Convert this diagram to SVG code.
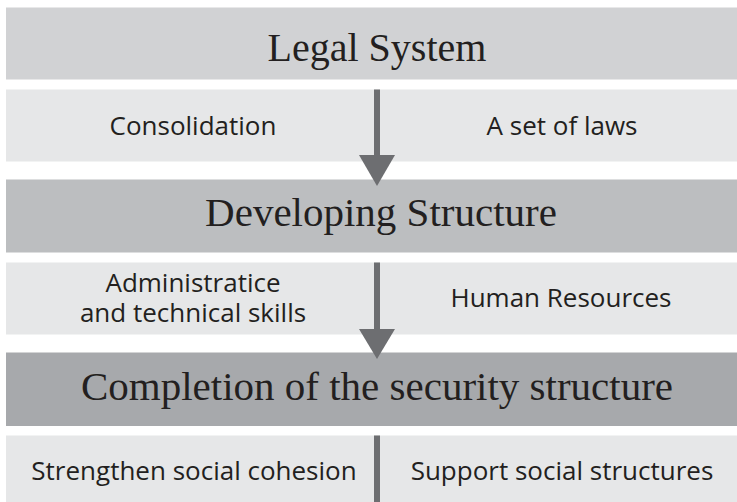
<svg xmlns="http://www.w3.org/2000/svg" width="737" height="502" viewBox="0 0 737 502">
<style>
.b1{fill:#d1d2d4}
.b2{fill:#bcbec0}
.b3{fill:#a7a9ac}
.row{fill:#e6e7e8}
.title{font-family:"Liberation Serif","DejaVu Serif",serif;font-size:41px;fill:#231f20;text-anchor:middle}
.lab{font-family:"Open Sans","Liberation Sans",sans-serif;font-size:26px;fill:#231f20;text-anchor:middle}
.conn{fill:#6d6e71}
</style>
<rect x="0" y="0" width="737" height="502" fill="#ffffff"/>
<g id="legal-system">
<rect class="b1" x="6" y="7.5" width="731" height="72"/>
<text class="title" x="377" y="61" style="font-size:40px">Legal System</text>
</g>
<g id="row-legal">
<rect class="row" x="6" y="89.5" width="731" height="72"/>
<text class="lab" x="193" y="135">Consolidation</text>
<text class="lab" x="562" y="135">A set of laws</text>
</g>
<g id="developing-structure">
<rect class="b2" x="6" y="179.5" width="731" height="73"/>
<text class="title" x="381" y="226">Developing Structure</text>
</g>
<g id="row-developing">
<rect class="row" x="6" y="262.5" width="731" height="72"/>
<text class="lab" x="193" y="291.5">Administratice</text>
<text class="lab" x="193" y="321.5">and technical skills</text>
<text class="lab" x="561" y="307">Human Resources</text>
</g>
<g id="completion">
<rect class="b3" x="6" y="352.5" width="731" height="73.5"/>
<text class="title" x="377" y="400">Completion of the security structure</text>
</g>
<g id="row-completion">
<rect class="row" x="6" y="435.5" width="731" height="66.5"/>
<text class="lab" x="194" y="480">Strengthen social cohesion</text>
<text class="lab" x="562" y="480">Support social structures</text>
</g>
<g id="connectors">
<rect class="conn" x="374" y="89.5" width="6" height="66"/>
<polygon class="conn" points="359,155 395,155 377,186"/>
<rect class="conn" x="374" y="262.5" width="6" height="67"/>
<polygon class="conn" points="359,329 395,329 377,359"/>
<rect class="conn" x="374" y="435.5" width="6" height="66.5"/>
</g>
</svg>
